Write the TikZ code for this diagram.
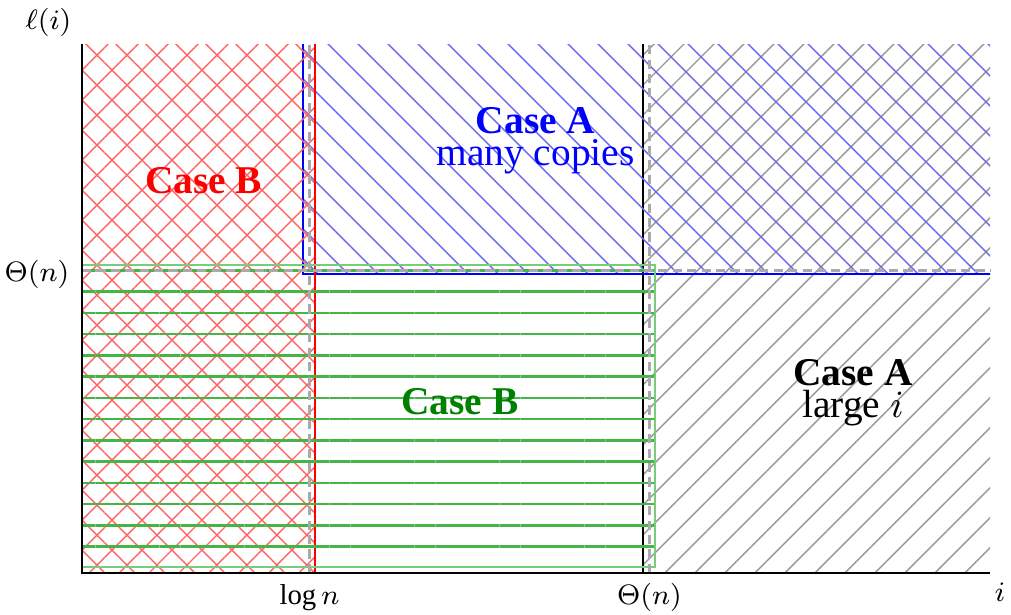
\documentclass[tikz,border=0pt]{standalone}
\usepackage{fontspec}
\setmainfont{Liberation Serif}
\usetikzlibrary{patterns.meta}
\definecolor{plred}{RGB}{255,100,100}
\definecolor{plblue}{RGB}{105,105,240}
\definecolor{plgray}{RGB}{150,150,150}
\definecolor{plgreen}{RGB}{70,180,70}
\definecolor{plgreenedge}{RGB}{120,205,120}
\definecolor{plgreentext}{RGB}{0,128,0}
\definecolor{pldash}{RGB}{170,170,170}
\tikzset{
  plaxis/.style={line width=0.8pt, draw=black},
  plguide/.style={draw=pldash, line width=0.6pt, dash pattern=on 2.6pt off 1.5pt},
  plbox/.style={line width=0.4pt},
  pllbl/.style={font=\fontsize{8.2}{10}\selectfont, inner sep=0pt},
  plcase/.style={font=\fontsize{11.2}{9.1}\selectfont, align=center, inner sep=0pt},
}

\begin{document}
\begin{tikzpicture}
  \useasboundingbox (-0.82,-0.41) rectangle (9.29,5.73);
  \coordinate (o) at (0,0);
  \coordinate (xend) at (9.08,0);
  \coordinate (yend) at (0,5.29);

  % regions
  \begin{scope}
    \clip (o) rectangle (9.08,5.29);
    \draw[plbox, draw=black, pattern color=plgray,
      pattern={Lines[angle=45,distance=0.2121cm,xshift=0.24cm,line width=0.4pt]}]
      (5.61,-0.2) rectangle (9.4,5.5);
    \draw[plbox, draw=blue, pattern color=plblue,
      pattern={Lines[angle=-45,distance=0.2121cm,xshift=0.283cm,line width=0.4pt]}]
      (2.21,2.99) rectangle (9.4,5.5);
    \draw[plbox, draw=red, pattern color=plred,
      pattern={Hatch[angle=45,distance=0.2121cm,xshift=0.22cm,yshift=0.04cm,line width=0.4pt]}]
      (-0.2,-0.2) rectangle (2.33,5.5);
    \draw[plbox, draw=plgreenedge, pattern color=plgreen,
      pattern={Lines[angle=0,distance=0.2125cm,yshift=0.0355cm,line width=0.7pt]}]
      (-0.2,0.06) rectangle (5.73,3.08);
  \end{scope}

  % guides
  \draw[plguide] (2.275,0) -- (2.275,5.29);
  \draw[plguide] (5.675,0) -- (5.675,5.29);
  \draw[plguide] (0,3.025) -- (9.08,3.025);

  % axes
  \draw[plaxis] (yend) -- (o) -- (xend);

  \node[pllbl, anchor=east] (ylab) at (-0.10,5.51) {$\ell(i)$};
  \node[pllbl, anchor=base] (xlab) at (9.18,-0.28) {$i$};
  \node[pllbl, anchor=base] (logn) at (2.275,-0.31) {$\log n$};
  \node[pllbl, anchor=base] (thetax) at (5.675,-0.31) {$\Theta(n)$};
  \node[pllbl, anchor=east] (thetay) at (-0.12,2.99) {$\Theta(n)$};

  % cases
  \node[plcase, text=red, anchor=base] (caseBred) at (1.215,3.80) {\bfseries Case B};
  \node[plcase, text=blue, anchor=north] (caseAblue) at (4.535,4.66) {\textbf{Case A}\\many copies};
  \node[plcase, text=plgreentext, anchor=base] (caseBgreen) at (3.78,1.59) {\bfseries Case B};
  \node[plcase, anchor=north] (caseAblack) at (7.71,2.14) {\textbf{Case A}\\large $i$};
\end{tikzpicture}
\end{document}
